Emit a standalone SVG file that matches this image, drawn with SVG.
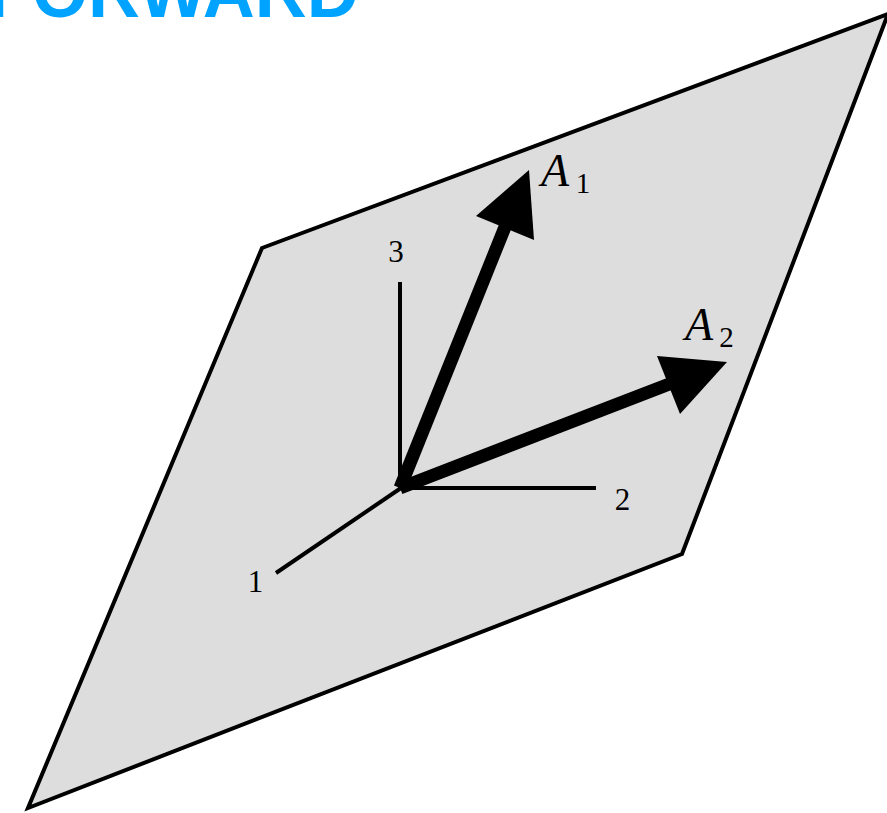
<svg xmlns="http://www.w3.org/2000/svg" width="887" height="813" viewBox="0 0 887 813">
<style>
.title{font-family:"Liberation Sans",Arial,sans-serif;font-weight:bold;fill:#00a3ff;font-size:72px}
.num{font-family:"Liberation Serif","Times New Roman",serif;font-size:31px;fill:#000;text-anchor:middle}
.var{font-family:"Liberation Serif","Times New Roman",serif;font-style:italic;font-size:46px;fill:#000}
.sub{font-family:"Liberation Serif","Times New Roman",serif;font-size:29px;fill:#000;text-anchor:middle}
.axis{stroke:#000;stroke-width:4;fill:none}
.vec{stroke:#000;stroke-width:13;fill:none;stroke-linecap:butt}
</style>
<rect width="887" height="813" fill="#fff"/>
<g id="title"><text class="title" x="-12" y="17">FORWARD</text></g>
<g id="plane"><polygon points="262,248 888,14 682,554 28,808" fill="#dddddd" stroke="#000" stroke-width="4" stroke-linejoin="miter"/></g>
<g id="connectors">
<line class="axis" x1="400" y1="488" x2="400" y2="282"/>
<line class="axis" x1="400" y1="488" x2="596" y2="488"/>
<line class="axis" x1="401" y1="488" x2="276" y2="573"/>
<line class="vec" x1="400" y1="488" x2="507" y2="222"/>
<polygon points="529,170 476,216 534,240" fill="#000"/>
<line class="vec" x1="400" y1="488" x2="672" y2="383"/>
<polygon points="727,362 657,356 680,414" fill="#000"/>
</g>
<g id="axis3"><text class="num" x="396" y="262">3</text></g>
<g id="axis2"><text class="num" x="622.5" y="510">2</text></g>
<g id="axis1"><text class="num" x="255.5" y="592">1</text></g>
<g id="labelA1"><text class="var" x="541" y="186">A</text><text class="sub" x="583" y="193">1</text></g>
<g id="labelA2"><text class="var" x="685" y="340">A</text><text class="sub" x="726.5" y="347">2</text></g>
</svg>
